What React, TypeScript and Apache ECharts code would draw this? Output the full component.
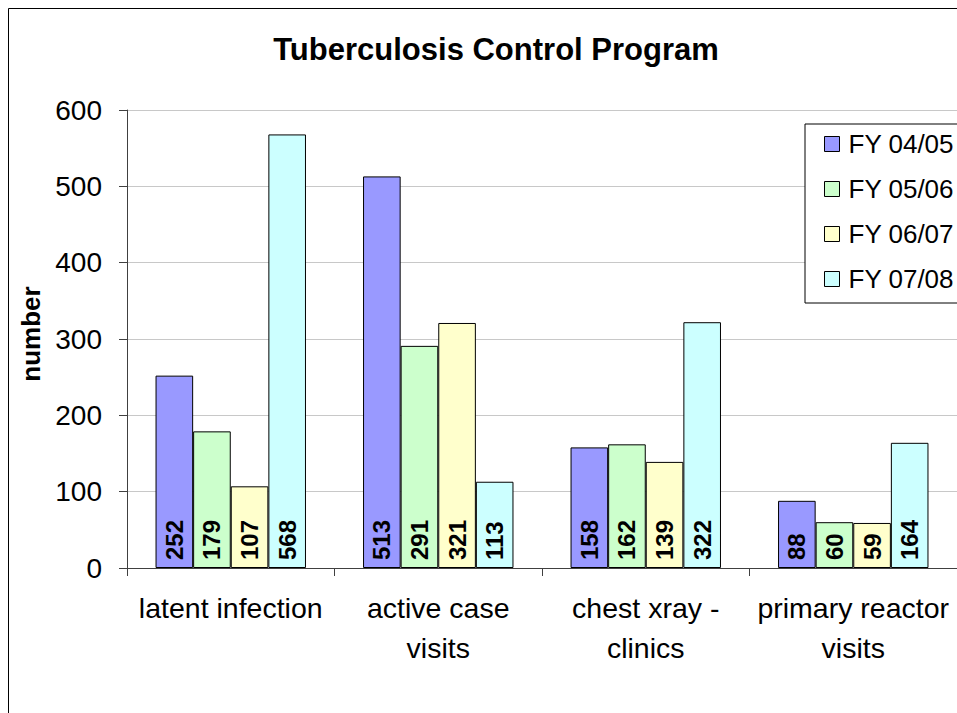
import React, { useEffect, useRef } from "react";
import * as echarts from "echarts";

const categories = [
  "latent infection",
  "active case\nvisits",
  "chest xray -\nclinics",
  "primary reactor\nvisits",
];
const seriesNames = ["FY 04/05", "FY 05/06", "FY 06/07", "FY 07/08"];
const fy0405 = [252, 513, 158, 88];
const fy0506 = [179, 291, 162, 60];
const fy0607 = [107, 321, 139, 59];
const fy0708 = [568, 113, 322, 164];
const colors = ["#9999FF", "#CCFFCC", "#FFFFCC", "#CCFFFF"];
const yTicks = [0, 100, 200, 300, 400, 500, 600];

const FONT = "'Liberation Sans', Arial, sans-serif";

export default function App() {
  const ref = useRef<HTMLDivElement>(null);
  useEffect(() => {
    if (!ref.current) return;
    const chart = echarts.init(ref.current, null, { renderer: "svg" });
    const values = [fy0405, fy0506, fy0607, fy0708];
    chart.setOption({
      animation: false,
      backgroundColor: "#ffffff",
      textStyle: { fontFamily: FONT },
      graphic: [
        {
          type: "rect",
          z: -10,
          shape: { x: 8.5, y: 8.5, width: 1100, height: 900 },
          style: { fill: "none", stroke: "#000", lineWidth: 1 },
          silent: true,
        },
      ],
      title: {
        text: "Tuberculosis Control Program",
        left: 491,
        textAlign: "center",
        top: 29,
        textStyle: { fontFamily: FONT, fontSize: 31, fontWeight: "bold", color: "#000" },
      },
      legend: {
        orient: "vertical",
        left: 805,
        top: 124,
        data: seriesNames,
        backgroundColor: "#fff",
        borderColor: "#000",
        borderWidth: 1,
        padding: [5, 10, 9, 19],
        itemWidth: 15,
        itemHeight: 15,
        itemGap: 15,
        icon: "rect",
        itemStyle: { borderColor: "#000", borderWidth: 1 },
        textStyle: {
          fontFamily: FONT,
          fontSize: 26,
          lineHeight: 30,
          color: "#000",
          padding: [0, 0, 0, 4],
        },
      },
      grid: { left: 127, top: 110, width: 832, height: 458, containLabel: false },
      xAxis: {
        type: "category",
        data: categories,
        axisLine: { lineStyle: { color: "#404040", width: 1 } },
        axisTick: { show: true, length: 8, lineStyle: { color: "#404040" } },
        axisLabel: {
          interval: 0,
          margin: 20,
          fontFamily: FONT,
          fontSize: 28.5,
          lineHeight: 40,
          color: "#000",
        },
      },
      yAxis: {
        type: "value",
        min: yTicks[0],
        max: yTicks[yTicks.length - 1],
        interval: 100,
        name: "number",
        nameLocation: "middle",
        nameRotate: 90,
        nameGap: 80,
        nameTextStyle: { fontFamily: FONT, fontSize: 26, fontWeight: "bold", color: "#000", padding: [0, 0, 0, 10] },
        axisLine: { show: true, lineStyle: { color: "#404040", width: 1 } },
        axisTick: { show: true, length: 8, lineStyle: { color: "#404040" } },
        axisLabel: { margin: 25, fontFamily: FONT, fontSize: 28, color: "#000" },
        splitLine: { show: true, lineStyle: { color: "#c8c8c8", width: 1 } },
      },
      series: seriesNames.map((name, i) => ({
        name,
        type: "bar",
        data: values[i],
        barGap: "0%",
        barCategoryGap: "27.5%",
        itemStyle: { color: colors[i], borderColor: "#000", borderWidth: 1 },
        label: {
          show: true,
          position: "insideBottom",
          rotate: 90,
          align: "left",
          verticalAlign: "middle",
          distance: 8,
          fontFamily: FONT,
          fontSize: 24,
          fontWeight: "bold",
          color: "#000",
        },
      })),
    });
    return () => chart.dispose();
  }, []);
  return (
    <div
      ref={ref}
      style={{ position: "fixed", left: 0, top: 0, width: 957, height: 713 }}
    />
  );
}
